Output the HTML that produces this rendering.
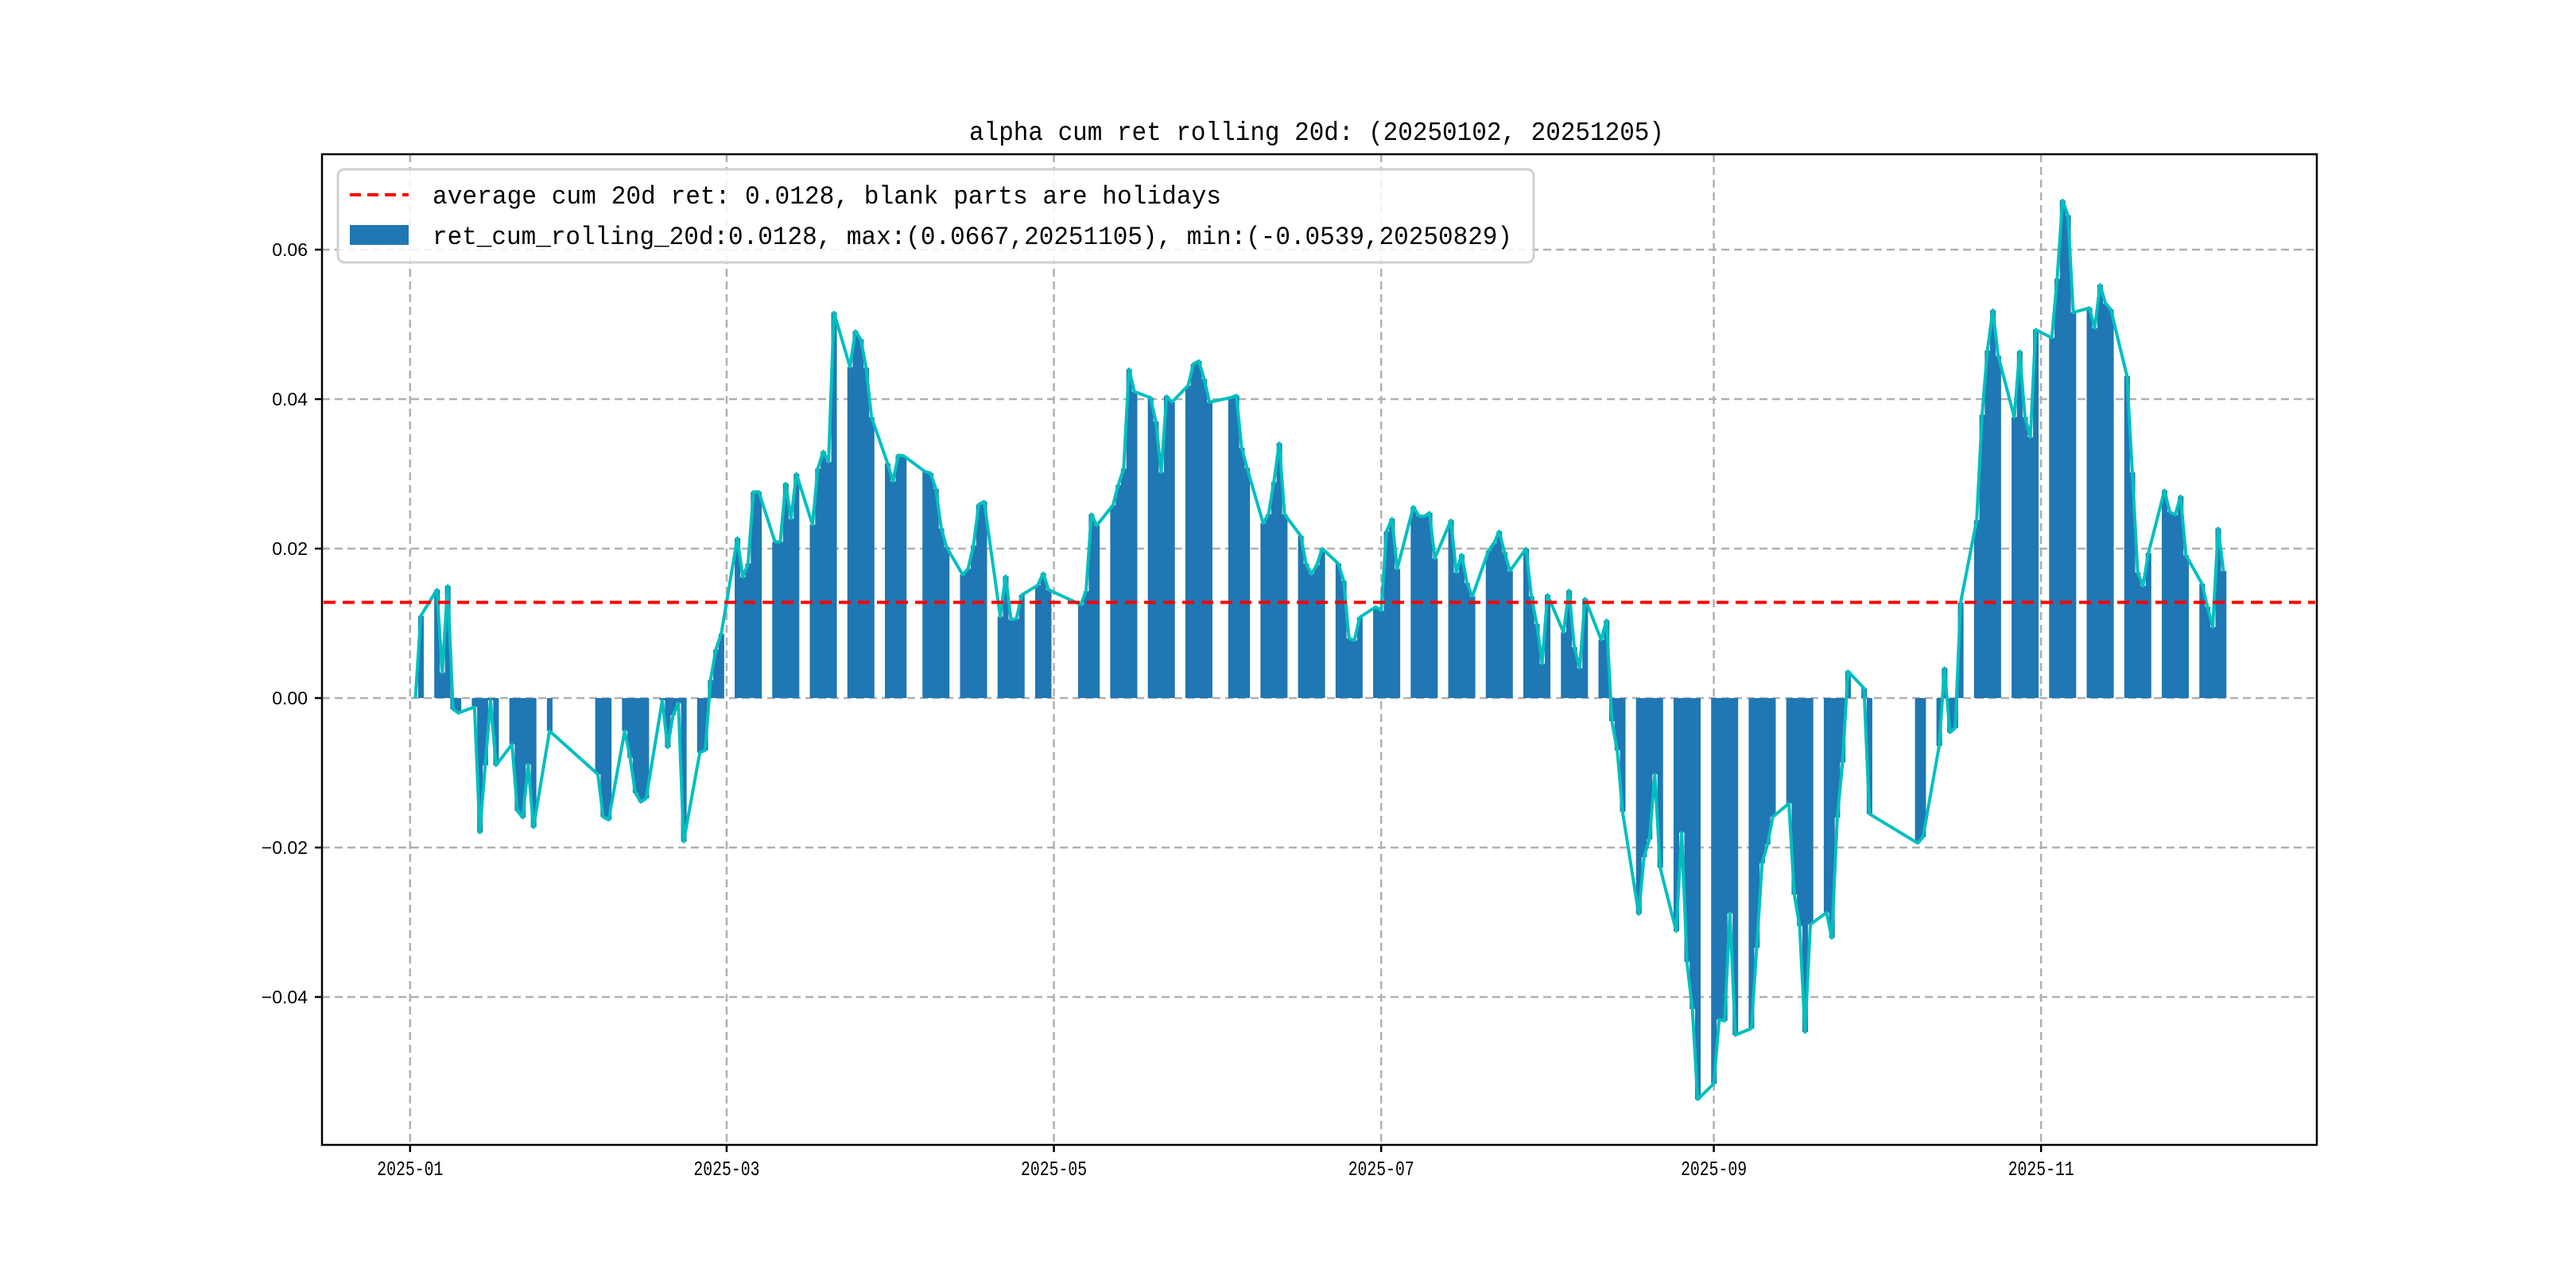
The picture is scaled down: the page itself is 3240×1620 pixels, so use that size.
<!DOCTYPE html>
<html><head><meta charset="utf-8"><style>
html,body{margin:0;padding:0;background:#fff;}
svg{display:block;}
text{font-family:"Liberation Mono","WenQuanYi Zen Hei",monospace;}
</style></head><body>
<svg id="chart" width="3240" height="1620" viewBox="0 0 3240 1620" xmlns="http://www.w3.org/2000/svg">
<rect x="0" y="0" width="3240" height="1620" fill="#fff"/>
<text x="1656" y="176" text-anchor="middle" font-size="33" textLength="874" lengthAdjust="spacingAndGlyphs">alpha cum ret rolling 20d: (20250102, 20251205)</text>
<g id="grid"></g>
<g id="bars"></g>
<g id="lines"></g>
<g id="axes"></g>
<g id="legend">
 <rect x="425" y="213" width="1504" height="117" rx="8" fill="#fff" fill-opacity="0.85" stroke="#d0d0d0" stroke-width="3"/>
 <line x1="440" y1="245" x2="514" y2="245" stroke="#ff0000" stroke-width="4" stroke-dasharray="14,8"/>
 <text x="544" y="256" font-size="32" textLength="992" lengthAdjust="spacingAndGlyphs">average cum 20d ret: 0.0128, blank parts are holidays</text>
 <rect x="440" y="283" width="74" height="25" fill="#1f77b4"/>
 <text x="544" y="307" font-size="32" textLength="1358" lengthAdjust="spacingAndGlyphs">ret_cum_rolling_20d:0.0128, max:(0.0667,20251105), min:(-0.0539,20250829)</text>
</g>
</svg>
<script>
const dates = [
"01-02","01-03","01-06","01-07","01-08","01-09","01-10","01-13","01-14","01-15","01-16","01-17","01-20","01-21","01-22","01-23","01-24","01-27",
"02-05","02-06","02-07","02-10","02-11","02-12","02-13","02-14","02-17","02-18","02-19","02-20","02-21","02-24","02-25","02-26","02-27","02-28",
"03-03","03-04","03-05","03-06","03-07","03-10","03-11","03-12","03-13","03-14","03-17","03-18","03-19","03-20","03-21","03-24","03-25","03-26","03-27","03-28","03-31",
"04-01","04-02","04-03","04-07","04-08","04-09","04-10","04-11","04-14","04-15","04-16","04-17","04-18","04-21","04-22","04-23","04-24","04-25","04-28","04-29","04-30",
"05-06","05-07","05-08","05-09","05-12","05-13","05-14","05-15","05-16","05-19","05-20","05-21","05-22","05-23","05-26","05-27","05-28","05-29","05-30",
"06-03","06-04","06-05","06-06","06-09","06-10","06-11","06-12","06-13","06-16","06-17","06-18","06-19","06-20","06-23","06-24","06-25","06-26","06-27","06-30",
"07-01","07-02","07-03","07-04","07-07","07-08","07-09","07-10","07-11","07-14","07-15","07-16","07-17","07-18","07-21","07-22","07-23","07-24","07-25","07-28","07-29","07-30","07-31",
"08-01","08-04","08-05","08-06","08-07","08-08","08-11","08-12","08-13","08-14","08-15","08-18","08-19","08-20","08-21","08-22","08-25","08-26","08-27","08-28","08-29",
"09-01","09-02","09-03","09-04","09-05","09-08","09-09","09-10","09-11","09-12","09-15","09-16","09-17","09-18","09-19","09-22","09-23","09-24","09-25","09-26","09-29","09-30",
"10-09","10-10","10-13","10-14","10-15","10-16","10-17","10-20","10-21","10-22","10-23","10-24","10-27","10-28","10-29","10-30","10-31",
"11-03","11-04","11-05","11-06","11-07","11-10","11-11","11-12","11-13","11-14","11-17","11-18","11-19","11-20","11-21","11-24","11-25","11-26","11-27","11-28",
"12-01","12-02","12-03","12-04","12-05"];
const values = [
0,.011,.0145,.0034,.015,-.0015,-.002,-.0012,-.018,-.009,-.0003,-.009,-.0062,-.0151,-.016,-.0089,-.0173,-.0044,
-.0102,-.0159,-.0163,-.0044,-.008,-.0127,-.0139,-.0134,-.0003,-.0066,-.0023,-.0007,-.0192,-.0073,-.007,.0024,.0065,.0086,
.0214,.0162,.018,.0276,.0276,.0209,.0209,.0287,.024,.030,.0232,.0307,.033,.0316,.0516,.0443,.0491,.048,.0442,.0376,.0314,
.029,.0325,.0324,.0303,.0301,.028,.0227,.0202,.0165,.0173,.0204,.0259,.0263,.0109,.0163,.0105,.0106,.0138,.0151,.0167,.0145,
.0125,.0143,.0246,.0231,.0258,.0285,.0307,.044,.041,.0402,.037,.0302,.0404,.0396,.0418,.0447,.0451,.0427,.0396,
.0402,.0405,.0335,.0308,.0234,.0246,.0289,.0341,.0246,.0217,.018,.0166,.0178,.020,.018,.0157,.008,.0077,.0108,.0122,
.0117,.0223,.024,.0173,.0256,.0244,.0243,.0248,.0187,.0238,.0168,.0192,.0154,.0136,.0197,.0207,.0223,.0195,.017,.020,.0136,.0099,.0046,
.0138,.0088,.0144,.0068,.004,.0133,.0078,.0104,-.0031,-.007,-.0152,-.0289,-.0213,-.0189,-.0102,-.0227,-.0312,-.018,-.0353,-.0416,-.0537,
-.0516,-.043,-.0432,-.0288,-.0451,-.0442,-.0334,-.0221,-.0196,-.0159,-.0141,-.0263,-.0305,-.0447,-.0303,-.0287,-.0321,-.016,-.0086,.0036,.0013,-.0155,
-.0194,-.0186,-.0064,.004,-.0046,-.004,.0128,.0238,.0379,.0465,.0519,.0458,.0376,.0464,.0376,.0349,.0493,
.0482,.0561,.0666,.0646,.0516,.0522,.0495,.0553,.0528,.052,.0431,.0302,.0168,.015,.0194,.0278,.0249,.0245,.027,.0191,
.0153,.0122,.0095,.0227,.017];
const average = 0.0128;
const yTicks = [-0.04,-0.02,0,0.02,0.04,0.06];
const yTickLabels = ["\u22120.04","\u22120.02","0.00","0.02","0.04","0.06"];
const xTicks = ["01-01","03-01","05-01","07-01","09-01","11-01"];
const xTickLabels = ["2025-01","2025-03","2025-05","2025-07","2025-09","2025-11"];

const L=405,R=2914,T=194,B=1440;
const NS="http://www.w3.org/2000/svg";
function dayOf(s){const d=new Date("2025-"+s+"T00:00:00Z");return (d-Date.UTC(2025,0,1))/86400000;}
function xs(s){return 515.8+dayOf(s)*6.748;}
function ys(v){return 878-v*9400;}
function mk(tag,attrs,parent){const e=document.createElementNS(NS,tag);for(const k in attrs)e.setAttribute(k,attrs[k]);parent.appendChild(e);return e;}
const grid=document.getElementById('grid'),bars=document.getElementById('bars'),lines=document.getElementById('lines'),axes=document.getElementById('axes');
yTicks.forEach((v,i)=>{
 const g=mk('line',{x1:L,x2:R,y1:ys(v),y2:ys(v),stroke:'#b0b0b0','stroke-width':2.5,'stroke-dasharray':'10,6'},grid);
 
 
 const t=mk('line',{x1:L-9,x2:L,y1:ys(v),y2:ys(v),stroke:'#000','stroke-width':2.5},axes);
 
 
 const lb=mk('text',{x:L-18,y:ys(v)+8,'text-anchor':'end','font-size':23,style:'font-family:"Liberation Sans",sans-serif'},axes);
 lb.textContent=yTickLabels[i];
 
 
});
xTicks.forEach((s,i)=>{
 const x=xs(s);
 const g=mk('line',{x1:x,x2:x,y1:T,y2:B,stroke:'#b0b0b0','stroke-width':2.5,'stroke-dasharray':'10,6'},grid);
 
 
 const t=mk('line',{x1:x,x2:x,y1:B,y2:B+9,stroke:'#000','stroke-width':2.5},axes);
 
 
 const lb=mk('text',{x:x,y:B+38,'text-anchor':'middle','font-size':26,textLength:83,lengthAdjust:'spacingAndGlyphs'},axes);
 lb.textContent=xTickLabels[i];
 
 
});
const w=6.748;
dates.forEach((s,i)=>{
 const v=values[i],x=xs(s)-w/2,y0=ys(0),y1=ys(v);
 const b=mk('rect',{x:x,y:Math.min(y0,y1),width:w+0.3,height:Math.abs(y1-y0),fill:'#1f77b4'},bars);
 
 
});
const pts=dates.map((s,i)=>xs(s).toFixed(1)+","+ys(values[i]).toFixed(1)).join(" ");
const pl=mk('polyline',{points:pts,fill:'none',stroke:'#00bfbf','stroke-width':4,'stroke-linejoin':'round'},lines);


const av=mk('line',{x1:L+2,x2:R-2,y1:ys(average),y2:ys(average),stroke:'#ff0000','stroke-width':4,'stroke-dasharray':'15,9'},lines);


const fr=mk('rect',{x:L,y:T,width:R-L,height:B-T,fill:'none',stroke:'#000','stroke-width':2.5},axes);


</script>
</body></html>
